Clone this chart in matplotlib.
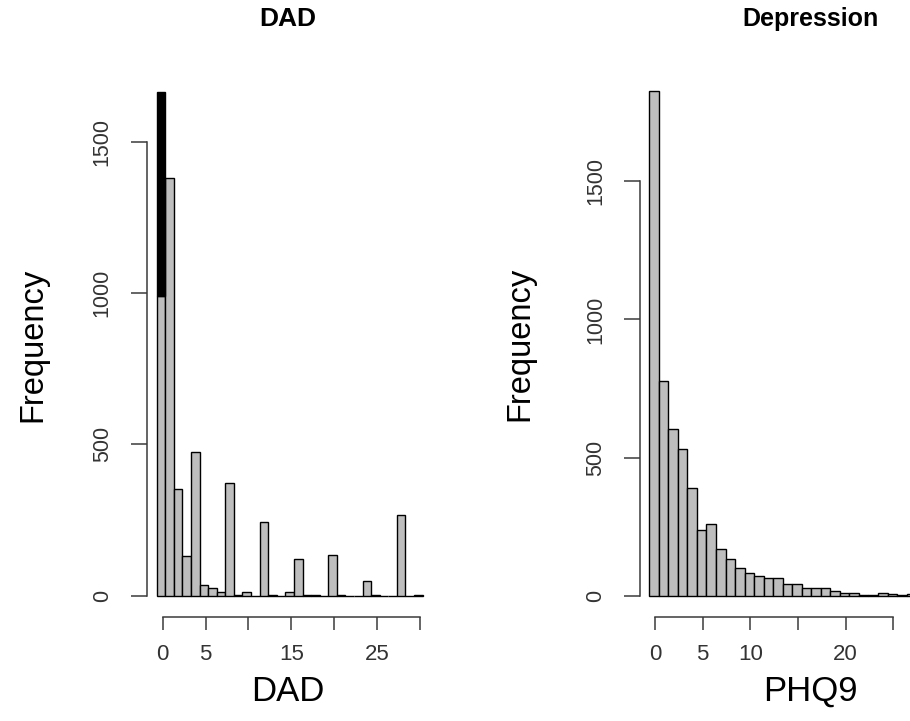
import numpy as np
import matplotlib
matplotlib.use('Agg')
import matplotlib.pyplot as plt

plt.rcParams['font.family'] = ['Liberation Sans', 'DejaVu Sans']

# DAD histogram: counts per integer score 0..30
dad_scores = list(range(31))
dad_counts = [989, 1380, 352, 131, 475, 36, 26, 13, 372, 3,
              13, 0, 244, 3, 0, 11, 121, 3, 3, 0,
              134, 3, 0, 0, 48, 3, 0, 0, 268, 0,
              3]
dad_top_score = 0
dad_top_count = 1663   # black part of the first bar

# PHQ9 histogram: counts per integer score 0..27
phq_scores = list(range(28))
phq_counts = [1825, 777, 602, 530, 389, 239, 260, 170, 133, 102,
              81, 72, 64, 64, 43, 43, 27, 27, 27, 18,
              11, 11, 4, 4, 9, 5, 1, 6]

dad_xticks = [0, 5, 10, 15, 20, 25, 30]
dad_xlabels = ['0', '5', '', '15', '', '25', '']
phq_xticks = [0, 5, 10, 15, 20, 25]
phq_xlabels = ['0', '5', '10', '', '20', '']
yticks = [0, 500, 1000, 1500]

W, H = 910, 721
fig = plt.figure(figsize=(W / 100, H / 100), dpi=100)

bar_col = '#bebebe'
ax_col = '#3a3a3a'


def px_axes(left, right, top, bottom):
    return fig.add_axes([left / W, (H - bottom) / H, (right - left) / W, (bottom - top) / H])


def style(ax, xticks, xlabels, xmax_tick):
    for s in ['top', 'right']:
        ax.spines[s].set_visible(False)
    ax.spines['left'].set_bounds(0, 1500)
    ax.spines['bottom'].set_bounds(0, xmax_tick)
    for s in ['left', 'bottom']:
        ax.spines[s].set_color(ax_col)
        ax.spines[s].set_linewidth(1.1)
    ax.set_yticks(yticks)
    ax.set_yticklabels([str(t) for t in yticks], rotation=90, va='center')
    ax.set_xticks(xticks)
    ax.set_xticklabels(xlabels)
    ax.tick_params(axis='y', length=11.5, width=1.1, color=ax_col, pad=13,
                   labelsize=15.5, labelcolor='#333333')
    ax.tick_params(axis='x', length=9, width=1.1, color=ax_col, pad=11,
                   labelsize=16, labelcolor='#333333')
    ax.set_ylabel('Frequency', fontsize=23.5, va='center')


# left panel: DAD
ax1 = px_axes(146.7, 428.6, 72.3, 616.7)
ax1.bar(np.array(dad_scores) - 0.7, dad_counts, width=1, align='edge',
        color=bar_col, edgecolor='black', linewidth=1)
ax1.bar(dad_top_score - 0.7, dad_top_count - dad_counts[0], bottom=dad_counts[0],
        width=1, align='edge', color='black', edgecolor='black', linewidth=1)
ax1.set_xlim(-1.865, 31)
ax1.set_ylim(-69.4, 1729)
style(ax1, dad_xticks, dad_xlabels, 30)
ax1.set_xlabel('DAD', fontsize=25, va='center')
ax1.xaxis.set_label_coords(0.5, (616.7 - 691.7) / (616.7 - 72.3))
ax1.yaxis.set_label_coords((32.7 - 146.7) / (428.6 - 146.7), 0.5)

# right panel: Depression
ax2 = px_axes(640, 980, 71.3, 616.7)
ax2.bar(np.array(phq_scores) - 0.6, phq_counts, width=1, align='edge',
        color=bar_col, edgecolor='black', linewidth=1)
ax2.set_xlim(-1.573, 34.1)
ax2.set_ylim(-76, 1898)
style(ax2, phq_xticks, phq_xlabels, 25)
ax2.set_xlabel('PHQ9', fontsize=25, va='center')
ax2.xaxis.set_label_coords(0.5, (616.7 - 691.7) / (616.7 - 71.3))
ax2.yaxis.set_label_coords((520 - 640) / (980 - 640), 0.5)

fig.text(288 / W, 1 - 19 / H, 'DAD', ha='center', va='center',
         fontsize=19, fontweight='bold')
fig.text(810 / W, 1 - 19 / H, 'Depression', ha='center', va='center',
         fontsize=18, fontweight='bold')

plt.savefig('out.png', dpi=100)
